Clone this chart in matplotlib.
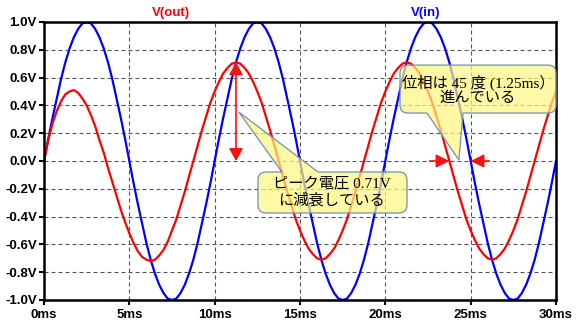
import numpy as np
import matplotlib
matplotlib.use('Agg')
import matplotlib.pyplot as plt
from matplotlib.path import Path
from matplotlib.patches import PathPatch, FancyArrowPatch
from matplotlib.ticker import FuncFormatter, MultipleLocator

plt.rcParams['font.family'] = ['Liberation Sans', 'Noto Sans CJK JP']

# time samples (ms), 0.25ms step
t_ms = np.arange(0, 30.001, 0.25)

# V(in)
v_in = [
    0.00, 0.16, 0.31, 0.45, 0.59, 0.71, 0.81, 0.89, 0.95, 0.99,
    1.00, 0.99, 0.95, 0.89, 0.81, 0.71, 0.59, 0.45, 0.31, 0.16,
    0.00, -0.16, -0.31, -0.45, -0.59, -0.71, -0.81, -0.89, -0.95, -0.99,
    -1.00, -0.99, -0.95, -0.89, -0.81, -0.71, -0.59, -0.45, -0.31, -0.16,
    0.00, 0.16, 0.31, 0.45, 0.59, 0.71, 0.81, 0.89, 0.95, 0.99,
    1.00, 0.99, 0.95, 0.89, 0.81, 0.71, 0.59, 0.45, 0.31, 0.16,
    0.00, -0.16, -0.31, -0.45, -0.59, -0.71, -0.81, -0.89, -0.95, -0.99,
    -1.00, -0.99, -0.95, -0.89, -0.81, -0.71, -0.59, -0.45, -0.31, -0.16,
    0.00, 0.16, 0.31, 0.45, 0.59, 0.71, 0.81, 0.89, 0.95, 0.99,
    1.00, 0.99, 0.95, 0.89, 0.81, 0.71, 0.59, 0.45, 0.31, 0.16,
    0.00, -0.16, -0.31, -0.45, -0.59, -0.71, -0.81, -0.89, -0.95, -0.99,
    -1.00, -0.99, -0.95, -0.89, -0.81, -0.71, -0.59, -0.45, -0.31, -0.16,
    0.00,
]

# V(out)
v_out = [
    0.00, 0.15, 0.27, 0.36, 0.43, 0.48, 0.50, 0.51, 0.49, 0.45,
    0.40, 0.33, 0.25, 0.15, 0.06, -0.05, -0.15, -0.25, -0.35, -0.44,
    -0.52, -0.59, -0.65, -0.69, -0.71, -0.72, -0.71, -0.68, -0.64, -0.58,
    -0.50, -0.42, -0.32, -0.22, -0.11, 0.00, 0.11, 0.22, 0.32, 0.42,
    0.50, 0.57, 0.63, 0.67, 0.70, 0.71, 0.70, 0.67, 0.63, 0.57,
    0.50, 0.42, 0.32, 0.22, 0.11, 0.00, -0.11, -0.22, -0.32, -0.42,
    -0.50, -0.57, -0.63, -0.67, -0.70, -0.71, -0.70, -0.67, -0.63, -0.57,
    -0.50, -0.42, -0.32, -0.22, -0.11, 0.00, 0.11, 0.22, 0.32, 0.42,
    0.50, 0.57, 0.63, 0.67, 0.70, 0.71, 0.70, 0.67, 0.63, 0.57,
    0.50, 0.42, 0.32, 0.22, 0.11, 0.00, -0.11, -0.22, -0.32, -0.42,
    -0.50, -0.57, -0.63, -0.67, -0.70, -0.71, -0.70, -0.67, -0.63, -0.57,
    -0.50, -0.42, -0.32, -0.22, -0.11, 0.00, 0.11, 0.22, 0.32, 0.42,
    0.50,
]

peak_t, peak_v = 11.25, 0.71      # attenuated peak
cross_out, cross_in = 23.75, 25.0  # zero crossings (1.25ms shift)


def callout(ax, x0, x1, y0, y1, base0, base1, tip, side, rx=0.47, ry=0.058):
    # rounded box with a wedge pointer, in data units
    verts = [(x0 + rx, y0)]
    codes = [Path.MOVETO]
    if side == 'bottom':
        verts += [(base0, y0), tip, (base1, y0)]
        codes += [Path.LINETO] * 3
    verts += [(x1 - rx, y0), (x1, y0), (x1, y0 + ry), (x1, y1 - ry), (x1, y1), (x1 - rx, y1)]
    codes += [Path.LINETO, Path.CURVE3, Path.CURVE3, Path.LINETO, Path.CURVE3, Path.CURVE3]
    if side == 'top':
        verts += [(base1, y1), tip, (base0, y1)]
        codes += [Path.LINETO] * 3
    verts += [(x0 + rx, y1), (x0, y1), (x0, y1 - ry), (x0, y0 + ry), (x0, y0), (x0 + rx, y0)]
    codes += [Path.LINETO, Path.CURVE3, Path.CURVE3, Path.LINETO, Path.CURVE3, Path.CURVE3]
    verts.append((x0 + rx, y0))
    codes.append(Path.CLOSEPOLY)
    p = PathPatch(Path(verts, codes), facecolor=(1.0, 0.97, 0.5, 0.7),
                  edgecolor='#7090B0', lw=0.9, zorder=4, clip_on=False)
    ax.add_patch(p)


def arrow(ax, start, end, style):
    a = FancyArrowPatch(start, end, arrowstyle=style, mutation_scale=1,
                        color='#FF1010', lw=1.2, zorder=3, shrinkA=0, shrinkB=0)
    ax.add_patch(a)


fig = plt.figure(figsize=(5.77, 3.29), dpi=100)
ax = fig.add_axes([44 / 577, 29 / 329, 512 / 577, 278 / 329])

ax.plot(t_ms, v_in, color='#0000FF', lw=1.6, zorder=2)
ax.plot(t_ms, v_out, color='#FF0000', lw=1.6, zorder=2)

ax.set_xlim(0, 30)
ax.set_ylim(-1, 1)
ax.xaxis.set_major_locator(MultipleLocator(5))
ax.yaxis.set_major_locator(MultipleLocator(0.2))
ax.xaxis.set_major_formatter(FuncFormatter(lambda v, p: '%dms' % round(v)))
ax.yaxis.set_major_formatter(FuncFormatter(lambda v, p: '%.1fV' % v))
ax.grid(True, color='#555555', lw=0.8, linestyle=(0, (3.6, 2.7)))
ax.tick_params(length=3.6, width=1.5, labelsize=9.5, pad=1.5)
ax.tick_params(axis='x', pad=3)
for lab in ax.get_xticklabels() + ax.get_yticklabels():
    lab.set_fontweight('bold')
for s in ax.spines.values():
    s.set_linewidth(1.8)

ax.text(7.45, 1.065, 'V(out)', color='#FF0000', fontsize=9.5, fontweight='bold',
        ha='center', va='center', clip_on=False)
ax.text(22.38, 1.065, 'V(in)', color='#0000FF', fontsize=9.5, fontweight='bold',
        ha='center', va='center', clip_on=False)

# peak arrow and phase arrows
arrow(ax, (peak_t, 0.0), (peak_t, peak_v), '<|-|>,head_length=7.5,head_width=4.2')
arrow(ax, (22.6, 0.0), (cross_out, 0.0), '-|>,head_length=8,head_width=4')
arrow(ax, (26.1, 0.0), (cross_in, 0.0), '-|>,head_length=8,head_width=4')

jp = ['Liberation Serif', 'Noto Sans CJK JP']
callout(ax, 12.54, 21.27, -0.374, -0.079, 13.94, 16.05, (11.42, 0.352), 'top')
ax.text(16.85, -0.222, 'ピーク電圧 0.71V\nに減衰している', family=jp, fontsize=11,
        ha='center', va='center', linespacing=1.22, zorder=5)

callout(ax, 20.86, 30.0, 0.345, 0.69, 22.44, 24.55, (24.31, 0.007), 'bottom')
ax.text(25.42, 0.512, '位相は 45 度 (1.25ms）\n進んでいる', family=jp, fontsize=11,
        ha='center', va='center', linespacing=1.1, zorder=5)

fig.savefig('out.png', dpi=100)
